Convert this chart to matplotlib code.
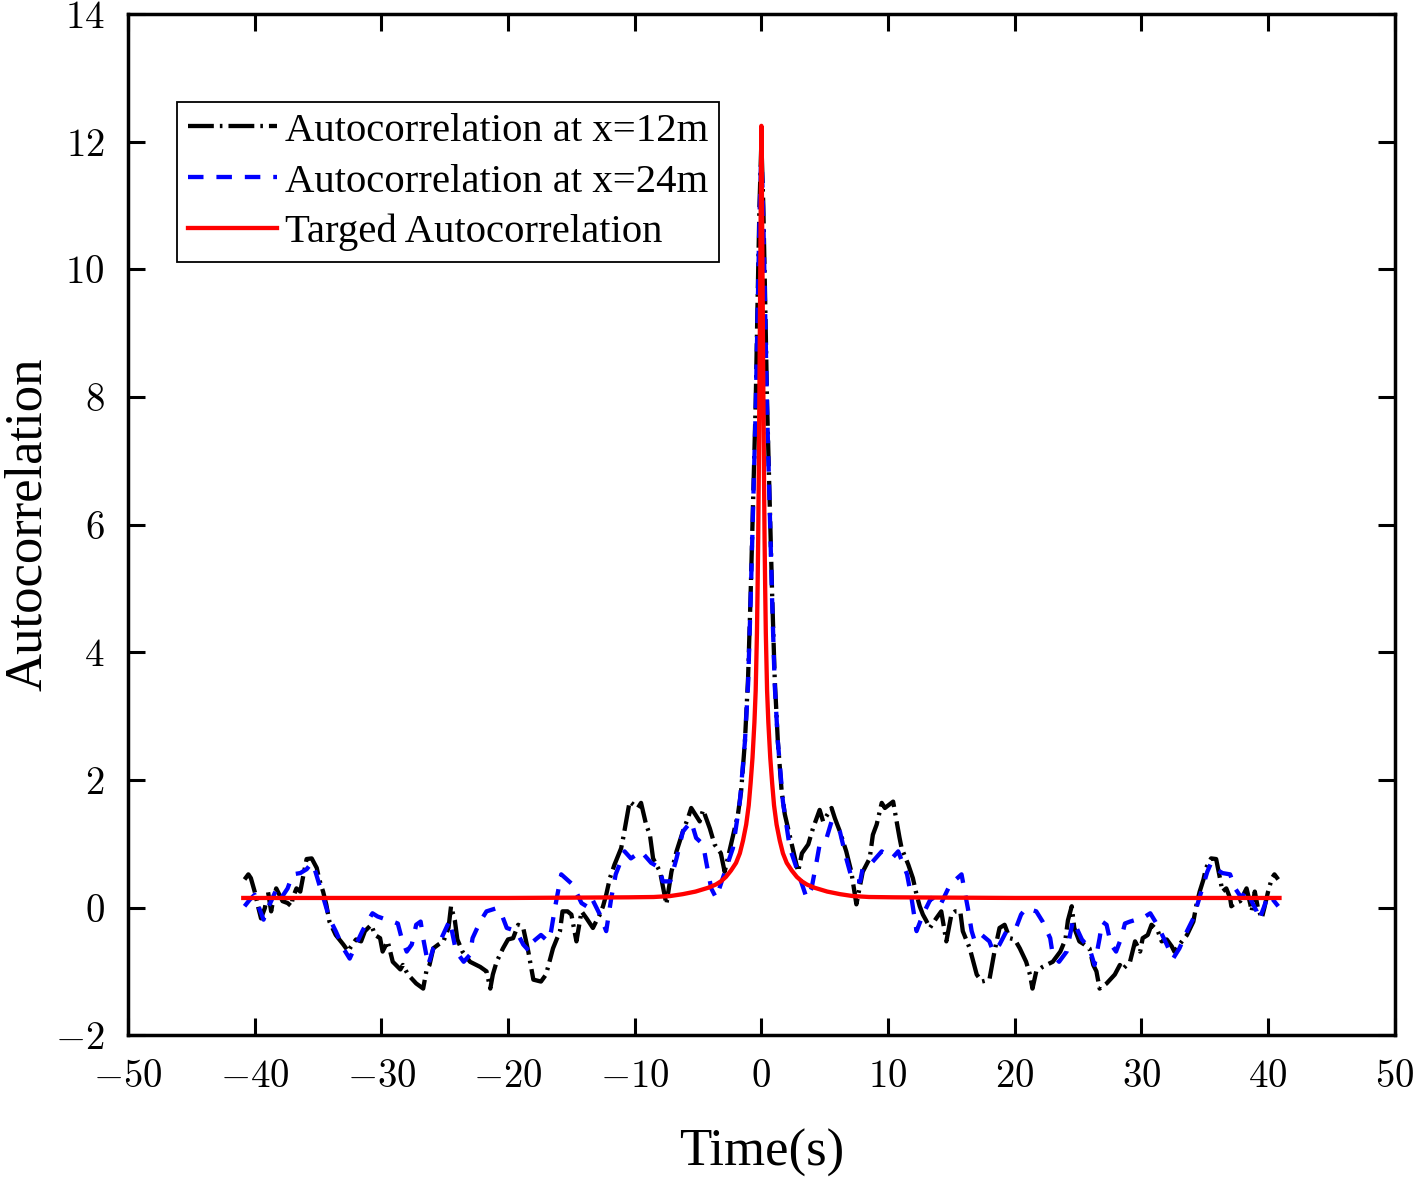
import matplotlib
matplotlib.use("Agg")
import matplotlib.pyplot as plt
from matplotlib.ticker import FuncFormatter
import numpy as np

t_12m = [0, 0.15, 0.3, 0.45, 0.65, 0.85, 1.05, 1.3, 1.6, 1.85, 2.4, 2.9, 3.2, 3.7, 4.07,
         4.47, 4.6, 4.87, 5.54, 5.8, 6.2, 6.7, 7.1, 7.5, 8.0, 8.55, 8.8, 9.1, 9.5, 9.75,
         10.4, 10.9, 11.07, 11.6, 11.96, 12.25, 12.5, 12.75, 13.0, 13.3, 13.8, 14.2, 14.6,
         15.0, 15.3, 15.7, 15.9, 16.45, 17.0, 17.4, 18.0, 18.4, 18.8, 19.2, 19.6, 20.0,
         20.4, 20.9, 21.2, 21.4, 21.7, 22.2, 23.0, 23.6, 24.0, 24.2, 24.5, 24.7, 25.1,
         25.5, 25.9, 26.2, 26.45, 26.7, 27.25, 27.9, 28.3, 28.5, 29.1, 29.5, 29.9, 30.1,
         30.5, 30.8, 31.3, 31.6, 32.0, 32.4, 32.6, 33.0, 33.6, 34.1, 34.35, 34.6, 34.9,
         35.1, 35.5, 35.9, 36.2, 36.4, 36.7, 37.0, 37.1, 37.4, 37.8, 38.05, 38.3, 38.6,
         38.7, 38.95, 39.2, 39.5, 39.7, 40.0, 40.3, 40.5, 40.8]
r_12m = [12.0, 11.0, 9.5, 7.9, 6.4, 4.9, 3.6, 2.6, 1.82, 1.46, 0.99, 0.56, 0.85, 0.99, 1.24,
         1.46, 1.53, 1.35, 1.56, 1.4, 1.19, 0.88, 0.56, 0.05, 0.56, 0.77, 1.14, 1.3, 1.64, 1.56,
         1.66, 1.1, 0.93, 0.67, 0.46, 0.2, 0.02, -0.11, -0.2, -0.32, -0.17, -0.06, -0.53,
         -0.11, -0.06, -0.06, -0.37, -0.64, -1.05, -1.16, -1.13, -0.69, -0.32, -0.27, -0.48, -0.5,
         -0.64, -0.85, -1.05, -1.27, -1.0, -0.93, -0.85, -0.69, -0.5, -0.2, 0.02, -0.32, -0.53,
         -0.58, -0.64, -0.9, -1.0, -1.27, -1.19, -1.05, -0.9, -0.97, -0.85, -0.53, -0.69, -0.48,
         -0.43, -0.27, -0.37, -0.53, -0.5, -0.61, -0.69, -0.58, -0.43, -0.22, 0.05, 0.25, 0.44,
         0.62, 0.77, 0.76, 0.46, 0.25, 0.3, 0.15, 0.02, 0.07, 0.1, 0.2, 0.3, 0.05,
         -0.06, 0.25, -0.01, -0.17, -0.01, 0.25, 0.46, 0.52, 0.44]

t_24m = [0, 0.15, 0.3, 0.45, 0.65, 0.85, 1.05, 1.3, 1.7, 2.25, 2.78, 3.57, 3.96, 4.36, 4.6,
         5.15, 5.54, 6.2, 6.7, 7.2, 7.8, 8.0, 8.7, 9.5, 10.3, 10.8, 11.5, 11.85, 12.25, 12.75,
         13.4, 13.8, 14.2, 14.9, 15.8, 16.3, 16.6, 16.85, 17.4, 18.0, 18.3, 18.8, 19.35, 20.1,
         20.5, 20.9, 21.7, 22.2, 22.8, 23.0, 23.5, 24.1, 24.6, 25.3, 25.9, 26.3, 26.7, 26.9,
         27.25, 27.6, 28.0, 28.4, 28.7, 29.1, 29.6, 30.3, 30.7, 31.1, 31.5, 32.0, 32.5, 33.0,
         33.6, 34.1, 34.5, 34.9, 35.2, 35.5, 35.9, 36.4, 37.0, 37.4, 37.9, 38.3, 38.7, 39.1,
         39.3, 39.7, 40.0, 40.4, 40.8]
r_24m = [11.9, 10.8, 9.3, 7.8, 6.3, 4.8, 3.5, 2.6, 1.66, 0.93, 0.62, 0.15, 0.3, 0.72, 0.99,
         1.09, 1.35, 1.19, 0.77, 0.41, 0.41, 0.62, 0.7, 0.88, 0.77, 0.88, 0.52, 0.15, -0.37, -0.11,
         0.15, 0.02, 0.07, 0.36, 0.52, -0.01, -0.37, -0.53, -0.43, -0.53, -0.69, -0.58, -0.37, -0.32,
         -0.11, -0.01, -0.06, -0.22, -0.48, -0.74, -0.85, -0.69, -0.2, -0.5, -0.64, -0.9, -0.48, -0.22,
         -0.27, -0.58, -0.69, -0.48, -0.25, -0.22, -0.19, -0.14, -0.09, -0.22, -0.37, -0.58, -0.8, -0.64,
         -0.37, -0.17, 0.1, 0.36, 0.56, 0.7, 0.6, 0.54, 0.52, 0.3, 0.15, 0.28, 0.1, -0.06,
         -0.19, 0.02, 0.2, 0.12, 0.02]

t_target = [0, 0.05, 0.1, 0.15, 0.2, 0.25, 0.3, 0.35, 0.45, 0.55, 0.7, 0.85, 1.0, 1.2, 1.45,
            1.7, 2.0, 2.4, 2.8, 3.2, 3.6, 4.2, 5.2, 6.2, 7.2, 8.5, 10.5, 15, 20, 30, 40.9]
r_target = [12.25, 11.0, 9.6, 8.2, 6.9, 5.8, 5.0, 4.3, 3.4, 2.9, 2.35, 1.95, 1.6, 1.3, 1.05,
            0.85, 0.7, 0.58, 0.48, 0.41, 0.36, 0.31, 0.25, 0.21, 0.18, 0.165, 0.16, 0.155, 0.15, 0.15, 0.15]

labels = ["Autocorrelation at x=12m", "Autocorrelation at x=24m", "Targed Autocorrelation"]


def both_sides(t, r):
    t = np.asarray(t)
    r = np.asarray(r)
    return np.concatenate((-t[::-1], t[1:])), np.concatenate((r[::-1], r[1:]))


def main():
    plt.rcParams["font.family"] = "Liberation Serif"
    plt.rcParams["mathtext.fontset"] = "cm"

    fig = plt.figure(figsize=(14.16, 11.79), dpi=100)
    ax = fig.add_axes([0.0904, 0.122, 0.8946, 0.866])

    x1, y1 = both_sides(t_12m, r_12m)
    x2, y2 = both_sides(t_24m, r_24m)
    x3, y3 = both_sides(t_target, r_target)

    ax.plot(x1, y1, color="black", lw=3.1, linestyle=(0, (6, 1.4, 0.6, 1.4)), label=labels[0])
    ax.plot(x2, y2, color="#0000ff", lw=3.1, linestyle=(0, (3.6, 3.0)), label=labels[1])
    ax.plot(x3, y3, color="#ff0000", lw=3.1, label=labels[2])

    ax.set_xlim(-50, 50)
    ax.set_ylim(-2, 14)
    ax.set_xticks(np.arange(-50, 51, 10))
    ax.set_yticks(np.arange(-2, 15, 2))
    fmt = FuncFormatter(lambda v, p: r"$%d$" % v)
    ax.xaxis.set_major_formatter(fmt)
    ax.yaxis.set_major_formatter(fmt)
    ax.tick_params(direction="in", length=12, width=2.2, labelsize=28, pad=17,
                   top=True, right=True)
    for s in ax.spines.values():
        s.set_linewidth(2.5)

    ax.set_xlabel("Time(s)", fontsize=38, labelpad=24)
    ax.set_ylabel("Autocorrelation", fontsize=38)
    ax.yaxis.set_label_coords(-0.06, 0.5)

    leg = ax.legend(loc="upper left", bbox_to_anchor=(0.039, 0.914), borderaxespad=0,
                    fontsize=29.3, handlelength=2.2, handletextpad=0.2, labelspacing=0.33,
                    borderpad=0.25, fancybox=False, framealpha=1, edgecolor="black")
    leg.get_frame().set_linewidth(1.3)

    fig.savefig("out.png", dpi=100)


if __name__ == "__main__":
    main()
